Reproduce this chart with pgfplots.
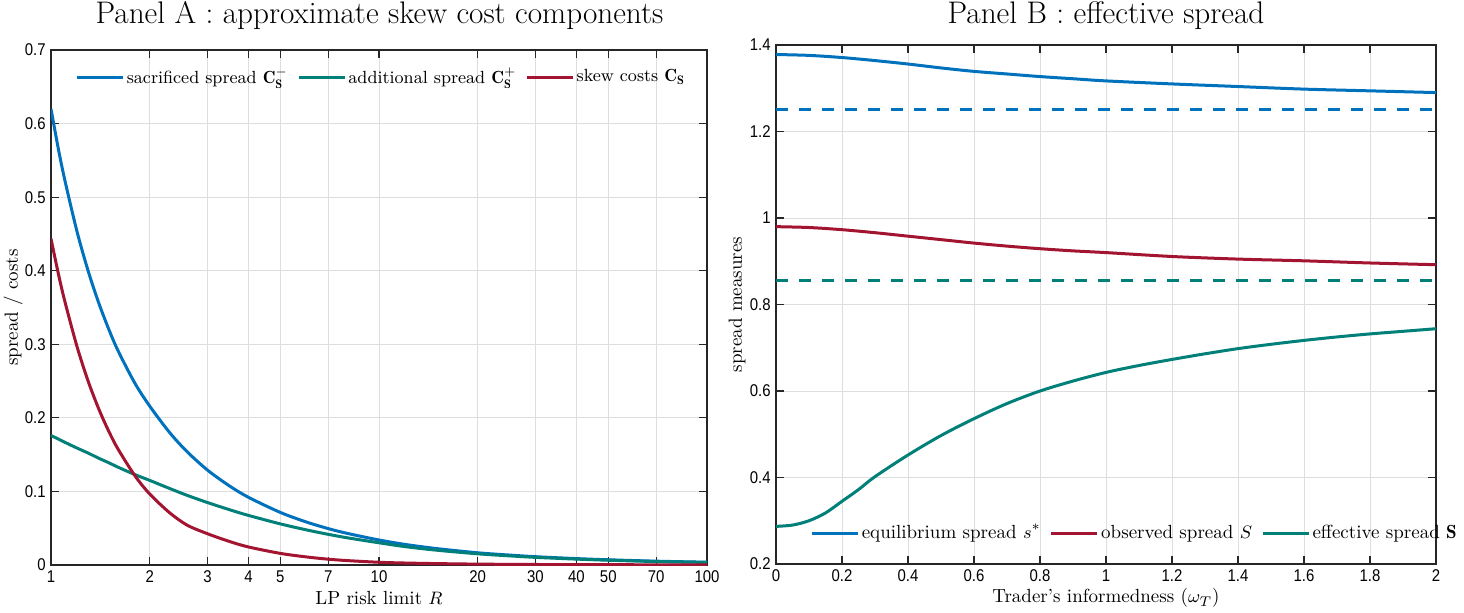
\documentclass[border=0pt]{standalone}
\usepackage{fontspec}
\usepackage{pgfplots}
\pgfplotsset{compat=1.18}
\newfontfamily\tickfont[FakeStretch=0.88]{Liberation Sans}
\definecolor{mblue}{rgb}{0,0.447,0.741}
\definecolor{mteal}{rgb}{0,0.5,0.47}
\definecolor{mred}{rgb}{0.635,0.078,0.184}
\pgfplotsset{
  legend image code/.code={\draw[#1, line width=1.5pt, solid] (0pt,0pt) -- (23pt,0pt);},
  mystyle/.style={
    scale only axis,
    axis line style={black!85, line width=0.6pt},
    tick style={black!85, line width=0.6pt},
    major tick length=4pt,
    tick align=inside, xtick pos=both, ytick pos=both,
    grid=major, major grid style={black!13, line width=0.5pt},
    tick label style={font=\tickfont\fontsize{8.5}{10}\selectfont, inner sep=0pt},
    xticklabel style={yshift=-2.5pt},
    yticklabel style={xshift=-2.5pt},
    /pgf/number format/assume math mode=true,
    label style={font=\fontsize{9.5}{11}\selectfont},
    legend style={draw=none, fill=none, font=\fontsize{9.5}{11}\selectfont, legend columns=3,
      inner sep=0pt, anchor=west,
      /tikz/every odd column/.append style={column sep=1.2pt},
      /tikz/every even column/.append style={column sep=4.5pt},
      nodes={inner sep=0pt}},
    every axis plot/.append style={line width=1.5pt},
  }
}
\begin{document}
\begin{tikzpicture}
\path[use as bounding box] (0pt,0pt) rectangle (732pt,306pt);
\begin{axis}[mystyle,
  at={(25.5pt,23.5pt)}, anchor=south west,
  width=328pt, height=257.5pt,
  xmode=log, xmin=1, xmax=100, ymin=0, ymax=0.7,
  xtick={1,2,3,4,5,7,10,20,30,40,50,70,100},
  xticklabels={1,2,3,4,5,7,10,20,30,40,50,70,100},
  ytick={0,0.1,0.2,0.3,0.4,0.5,0.6,0.7},
  xlabel={LP risk limit $R$},
  ylabel={spread / costs},
  xlabel style={at={(axis description cs:0.5,-0.0641)}, anchor=center},
  ylabel style={at={(axis description cs:-0.0579,0.5)}, anchor=center},
  legend style={at={(axis description cs:0.0366,0.9476)}, font=\fontsize{8.8}{11}\selectfont},
]
\addplot[mblue, smooth] coordinates {
(1,0.620) (1.05,0.5685) (1.1,0.5247) (1.2,0.4535) (1.3,0.3987) (1.4,0.3555) (1.5,0.3205) (1.6,0.2916)
(1.8,0.2475) (2,0.216) (2.3,0.180) (2.6,0.154) (3,0.129) (3.5,0.1075) (4,0.092)
(5,0.0715) (6,0.0585) (7,0.0495) (8,0.043) (10,0.034) (12,0.028) (15,0.0223) (20,0.0166)
(25,0.0135) (30,0.0113) (40,0.0087) (50,0.0071) (70,0.0052) (100,0.0038)};
\addlegendentry{sacrificed spread $\mathbf{C}^{-}_{\mathbf{S}}$}
\addplot[mteal, smooth] coordinates {
(1,0.176) (1.05,0.1715) (1.1,0.167) (1.2,0.159) (1.3,0.152) (1.4,0.145) (1.5,0.139) (1.6,0.133)
(1.8,0.123) (2,0.115) (2.3,0.104) (2.6,0.0947) (3,0.0849) (3.5,0.0752) (4,0.0674)
(5,0.0559) (6,0.0478) (7,0.0417) (8,0.0370) (10,0.0302) (12,0.025) (15,0.0201) (20,0.0152)
(25,0.0124) (30,0.0104) (40,0.0080) (50,0.0065) (70,0.0047) (100,0.0035)};
\addlegendentry{additional spread $\mathbf{C}^{+}_{\mathbf{S}}$}
\addplot[mred, smooth] coordinates {
(1,0.4436) (1.05,0.3985) (1.1,0.3598) (1.2,0.2971) (1.3,0.249) (1.4,0.2116) (1.5,0.1818) (1.6,0.1578)
(1.8,0.1217) (2,0.0965) (2.3,0.0710) (2.6,0.0542) (3,0.0425) (3.5,0.032) (4,0.0245)
(5,0.0158) (6,0.011) (7,0.0079) (8,0.0060) (10,0.0037) (12,0.0027) (15,0.0019) (20,0.0012)
(25,0.0009) (30,0.0007) (40,0.0005) (50,0.0004) (70,0.0003) (100,0.0002)};
\addlegendentry{skew costs $\mathbf{C}_{\mathbf{S}}$}
\end{axis}

\begin{axis}[mystyle,
  at={(388pt,24pt)}, anchor=south west,
  width=330pt, height=259.5pt,
  xmin=0, xmax=2, ymin=0.2, ymax=1.4,
  xtick={0,0.2,0.4,0.6,0.8,1,1.2,1.4,1.6,1.8,2},
  ytick={0.2,0.4,0.6,0.8,1,1.2,1.4},
  xlabel={Trader's informedness ($\omega_T$)},
  ylabel={spread measures},
  xlabel style={at={(axis description cs:0.5,-0.0655)}, anchor=center},
  ylabel style={at={(axis description cs:-0.0591,0.5)}, anchor=center},
  legend style={at={(axis description cs:0.0515,0.0597)}},
]
\addplot[mblue, smooth] coordinates {
(0,1.378) (0.1,1.376) (0.2,1.371) (0.3,1.364) (0.4,1.356) (0.5,1.347) (0.6,1.339)
(0.7,1.333) (0.8,1.327) (0.9,1.322) (1.0,1.317) (1.2,1.310) (1.4,1.304) (1.6,1.298)
(1.8,1.294) (2.0,1.290)};
\addlegendentry{equilibrium spread $s^{*}$}
\addplot[mred, smooth] coordinates {
(0,0.980) (0.1,0.978) (0.2,0.973) (0.3,0.966) (0.4,0.958) (0.5,0.950) (0.6,0.942)
(0.7,0.935) (0.8,0.929) (0.9,0.924) (1.0,0.920) (1.2,0.911) (1.4,0.905) (1.6,0.901)
(1.8,0.896) (2.0,0.892)};
\addlegendentry{observed spread $S$}
\addplot[mteal, smooth] coordinates {
(0,0.287) (0.05,0.290) (0.1,0.300) (0.15,0.318) (0.2,0.345) (0.25,0.372) (0.3,0.402)
(0.4,0.452) (0.5,0.497) (0.6,0.536) (0.7,0.571) (0.8,0.600) (0.9,0.623) (1.0,0.643)
(1.1,0.659) (1.2,0.673) (1.3,0.686) (1.4,0.698) (1.5,0.708) (1.6,0.717) (1.7,0.725)
(1.8,0.732) (1.9,0.738) (2.0,0.744)};
\addlegendentry{effective spread $\mathbf{S}$}
\addplot[mblue, dash pattern=on 6pt off 5.5pt, forget plot] coordinates {(0,1.252) (2,1.252)};
\addplot[mteal, dash pattern=on 6pt off 5.5pt, forget plot] coordinates {(0,0.856) (2,0.856)};
\end{axis}
\node[font=\fontsize{15.6}{18}\selectfont, anchor=base] at (189.75pt,294pt) {Panel A : approximate skew cost components};
\node[font=\fontsize{15.6}{18}\selectfont, anchor=base] at (553pt,294pt) {Panel B : effective spread};
\end{tikzpicture}
\end{document}
